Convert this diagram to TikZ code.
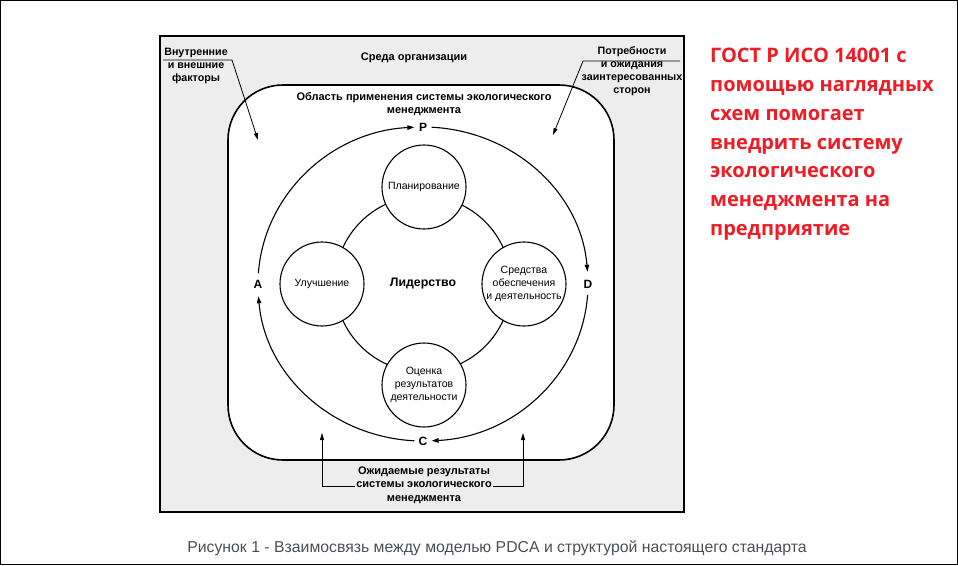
\documentclass[tikz,border=0pt]{standalone}
\usepackage{fontspec}
\setmainfont{Liberation Sans}
\newfontfamily\redfont{Open Sans}
\usetikzlibrary{arrows.meta}
\definecolor{framegray}{HTML}{EDEDED}
\definecolor{redtxt}{HTML}{EE1C25}
\definecolor{captxt}{HTML}{4A4F57}
\tikzset{
  arr/.style={line width=0.8pt,-{Triangle[length=7pt,width=4pt]}},
  cyc/.style={line width=1.1pt,-{Triangle[length=7pt,width=4.5pt]}},
  smallcirc/.style={circle,draw,line width=1.1pt,fill=white,minimum size=84pt,inner sep=0pt,align=center,font=\fontsize{10.5}{13}\selectfont},
  boldtxt/.style={align=center,inner sep=1pt,font=\bfseries\fontsize{11}{13.3}\selectfont},
  sidetxt/.style={align=center,inner sep=1pt,font=\bfseries\fontsize{10.7}{13}\selectfont},
  lbl/.style={inner sep=1pt,font=\bfseries\fontsize{12}{13}\selectfont},
  redline/.style={anchor=base west,inner sep=0pt,text=redtxt,font=\redfont\bfseries\fontsize{20}{22}\selectfont}
}
\begin{document}
\begin{tikzpicture}[x=1pt,y=-1pt]
\useasboundingbox (0,0) rectangle (958,565);
% image border
\draw[line width=1pt] (0.5,0.5) rectangle (957.5,564.5);
% outer frame
\draw[line width=1.6pt,fill=framegray] (160,36) rectangle (684,512);
% scope area
\draw[line width=1.6pt,fill=white,rounded corners=55pt] (228,85) rectangle (614,460);
% titles
\node[boldtxt] (env) at (414,58) {Среда организации};
\node[boldtxt] (scope) at (424,104) {Область применения системы экологического\\менеджмента};
\node[sidetxt] (vf) at (196,65.5) {Внутренние\\и внешние\\факторы};
\node[sidetxt] (po) at (632,71.5) {Потребности\\и ожидания\\заинтересованных\\сторон};
\node[boldtxt] (res) at (424,485) {Ожидаемые результаты\\системы экологического\\менеджмента};
% factor arrows
\coordinate (vfa) at (163,60);
\coordinate (vfb) at (232,60);
\coordinate (vft) at (258,140);
\draw[arr] (vfa) -- (vfb) -- (vft);
\coordinate (poa) at (680,61);
\coordinate (pob) at (583,61);
\coordinate (pot) at (553,135);
\draw[arr] (poa) -- (pob) -- (pot);
% result arrows
\coordinate (resL) at (322,433);
\coordinate (resR) at (523,433);
\draw[arr] ([yshift=-1.5pt]res.west) -| (resL);
\draw[arr] ([yshift=-1.5pt]res.east) -| (resR);
% PDCA cycle
\coordinate (ctr) at (423,284);
\node[lbl] (P) at (423,127) {P};
\node[lbl] (D) at (588,284) {D};
\node[lbl] (C) at (423,441) {C};
\node[lbl] (A) at (258,284) {A};
\draw[cyc] ([shift={(176:165pt and 157pt)}]ctr) arc[start angle=176,end angle=93,x radius=165pt,y radius=157pt];
\draw[cyc] ([shift={(87:165pt and 157pt)}]ctr) arc[start angle=87,end angle=4.5,x radius=165pt,y radius=157pt];
\draw[cyc] ([shift={(-4:165pt and 157pt)}]ctr) arc[start angle=-4,end angle=-87,x radius=165pt,y radius=157pt];
\draw[cyc] ([shift={(-93:165pt and 157pt)}]ctr) arc[start angle=-93,end angle=-175.5,x radius=165pt,y radius=157pt];
% leadership ring
\draw[line width=1.1pt] (ctr) circle[radius=88pt];
\node[font=\bfseries\fontsize{12.3}{13}\selectfont] (lead) at (ctr) {Лидерство};
\node[smallcirc] (plan) at (424,187) {Планирование};
\node[smallcirc] (supp) at (524,284) {Средства\\обеспечения\\и деятельность};
\node[smallcirc] (eval) at (424,385) {Оценка\\результатов\\деятельности};
\node[smallcirc] (impr) at (322,284) {Улучшение};
% caption
\node[text=captxt,font=\fontsize{15.8}{17}\selectfont] (cap) at (497,548) {Рисунок 1 - Взаимосвязь между моделью PDCA и структурой настоящего стандарта};
% red text
\node[redline] (r1) at (710,62) {ГОСТ Р ИСО 14001 с};
\node[redline] (r2) at (710,91) {помощью наглядных};
\node[redline] (r3) at (710,120) {схем помогает};
\node[redline] (r4) at (710,149) {внедрить систему};
\node[redline] (r5) at (710,177) {экологического};
\node[redline] (r6) at (710,206) {менеджмента на};
\node[redline] (r7) at (710,235) {предприятие};
\end{tikzpicture}
\end{document}
